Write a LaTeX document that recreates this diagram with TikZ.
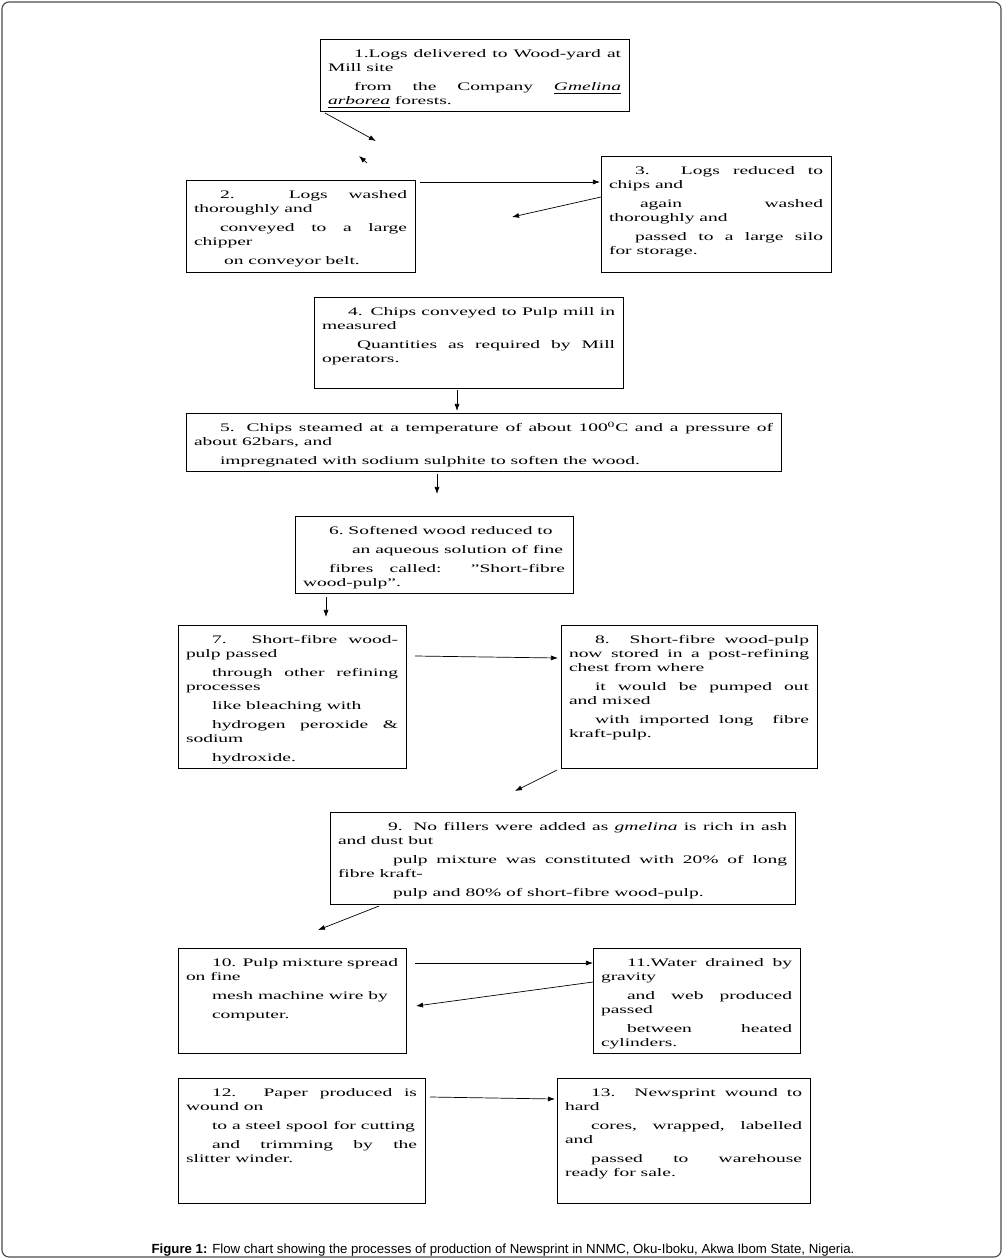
\documentclass[tikz,border=0pt]{standalone}
\usepackage{fontspec}
\setmainfont{Liberation Serif}
\newfontfamily\stagefont{Liberation Serif}[FakeStretch=1.69]
\newfontfamily\capfont{Liberation Sans}
\usepackage{tikz}
\usetikzlibrary{positioning,arrows.meta,calc}
\newdimen\px \px=0.71132pt
\newcommand{\jl}[1]{\makebox[\hsize][s]{#1}\\}
\newcommand{\indt}{\hspace*{26\px}}
\newcommand{\stagetext}[3]{\parbox[c][#2\px][t]{#1\px}{\rule{0pt}{13.3pt}#3}}
\tikzset{
stage/.style={
draw,
line width=0.6pt,
anchor=north west,
inner xsep=5.69pt,
inner ysep=0pt,
outer sep=0pt,
font=\stagefont\fontsize{8.2}{9.96}\selectfont
},
caption/.style={
font=\capfont\fontsize{9.4}{11}\selectfont,
inner sep=0pt
},
frame/.style={
draw=black!70,
line width=0.8pt,
rounded corners=5pt
},
arrow/.style={
-{Latex[length=5pt,width=3.6pt]},
line width=0.5pt
}
}
\begin{document}
\begin{tikzpicture}[x=0.025cm,y=-0.025cm]
\useasboundingbox (0,0) rectangle (1004,1260);
\draw[frame] (2,2) rectangle (1001,1257);

\node[stage](b1) at (320,39){\stagetext{293}{72}{%
\jl{\indt 1.Logs delivered to Wood-yard at}Mill site\\[5\px]%
\jl{\indt from the Company \underline{\textit{Gmelina}}}\underline{\textit{arborea}} forests.}};
\node[stage](b2) at (186,180){\stagetext{213}{92}{%
\jl{\indt 2. Logs washed}thoroughly and\\[5\px]%
\jl{\indt conveyed to a large}chipper\\[5\px]%
\hspace*{30\px}on conveyor belt.}};
\node[stage](b3) at (601,156){\stagetext{214}{116}{%
\jl{\indt 3. Logs reduced to}chips and\\[5\px]%
\jl{\hspace*{31\px}again washed}thoroughly and\\[5\px]%
\jl{\indt passed to a large silo}for storage.}};
\node[stage](b4) at (314,297){\stagetext{293}{91}{%
\jl{\indt 4. Chips conveyed to Pulp mill in}measured\\[5\px]%
\jl{\hspace*{35\px}Quantities as required by Mill}operators.}};
\node[stage](b5) at (186,413){\stagetext{579}{58}{%
\jl{\indt 5. Chips steamed at a temperature of about 100\textsuperscript{0}C and a pressure of}about 62bars, and\\[5\px]%
\indt impregnated with sodium sulphite to soften the wood.}};
\node[stage](b6) at (295,516){\stagetext{262}{77}{%
\indt 6.\ Softened wood reduced to\\[5\px]%
\hspace*{49\px}an aqueous solution of fine\\[5\px]%
\jl{\indt fibres called: ”Short-fibre}wood-pulp”.}};
\node[stage](b7) at (178,625){\stagetext{212}{143}{%
\jl{\indt 7. Short-fibre wood-}pulp passed\\[5\px]%
\jl{\indt through other refining}processes\\[5\px]%
\indt like bleaching with\\[5\px]%
\jl{\indt hydrogen peroxide \&}sodium\\[5\px]%
\indt hydroxide.}};
\node[stage](b8) at (561,625){\stagetext{240}{143}{%
\jl{\indt 8. Short-fibre wood-pulp}\jl{now stored in a post-refining}chest from where\\[5\px]%
\jl{\indt it would be pumped out}and mixed\\[5\px]%
\jl{\indt with imported long\ \ fibre}kraft-pulp.}};
\node[stage](b9) at (330,812){\stagetext{449}{92}{%
\jl{\hspace*{50\px}9. No fillers were added as \textit{gmelina} is rich in ash}and dust but\\[5\px]%
\jl{\hspace*{55\px}pulp mixture was constituted with 20\% of long}fibre kraft-\\[5\px]%
\hspace*{55\px}pulp and 80\% of short-fibre wood-pulp.}};
\node[stage](b10) at (178,948){\stagetext{212}{105}{%
\jl{\indt 10. Pulp mixture spread}on fine\\[5\px]%
\indt mesh machine wire by\\[5\px]%
\indt computer.}};
\node[stage](b11) at (593,948){\stagetext{191}{105}{%
\jl{\indt 11.Water drained by}gravity\\[5\px]%
\jl{\indt and web produced}passed\\[5\px]%
\jl{\indt between heated}cylinders.}};
\node[stage](b12) at (178,1078){\stagetext{231}{125}{%
\jl{\indt 12. Paper produced is}wound on\\[5\px]%
\indt to a steel spool for cutting\\[5\px]%
\jl{\indt and trimming by the}slitter winder.}};
\node[stage](b13) at (557,1078){\stagetext{237}{125}{%
\jl{\indt 13. Newsprint wound to}hard\\[5\px]%
\jl{\indt cores, wrapped, labelled}and\\[5\px]%
\jl{\indt passed to warehouse}ready for sale.}};

\node[caption](cap) at (503,1250){\textbf{Figure 1:} Flow chart showing the processes of production of Newsprint in NNMC, Oku-Iboku, Akwa Ibom State, Nigeria.};

% connector ends
\coordinate (s1) at ($(b1.south west)+(5,2)$);
\coordinate (e1) at (376,141);
\coordinate (t1) at (367,163);
\coordinate (t2) at (359,156);
\coordinate (s2) at ($(b2.north east)+(5,2)$);
\coordinate (e2) at ($(b3.north west)+(-1,26)$);
\coordinate (s3) at ($(b3.north west)+(0,41)$);
\coordinate (e3) at (512,217);
\coordinate (s4) at ($(b4.south west)+(143,2)$);
\coordinate (e4) at ($(b5.north west)+(271,-2)$);
\coordinate (s5) at ($(b5.south west)+(251,3)$);
\coordinate (e5) at (437,494);
\coordinate (s6) at ($(b6.south west)+(31,4)$);
\coordinate (e6) at (326,617);
\coordinate (s7) at ($(b7.north east)+(9,31)$);
\coordinate (e7) at ($(b8.north west)+(-3,33)$);
\coordinate (s8) at ($(b8.south west)+(-4,2)$);
\coordinate (e8) at (515,791);
\coordinate (s9) at ($(b9.south west)+(49,2)$);
\coordinate (e9) at (318,930);
\coordinate (s10) at ($(b10.north east)+(9,15)$);
\coordinate (e10) at ($(b11.north west)+(0,15)$);
\coordinate (s11) at ($(b11.north west)+(0,34)$);
\coordinate (e11) at (416,1006);
\coordinate (s12) at ($(b12.north east)+(5,19)$);
\coordinate (e12) at ($(b13.north west)+(-2,21)$);

\foreach \x/\y in {s1/e1,t1/t2,s2/e2,s3/e3,s4/e4,s5/e5,s6/e6,s7/e7,s8/e8,s9/e9,s10/e10,s11/e11,s12/e12}
\draw[arrow](\x)--(\y);
\end{tikzpicture}
\end{document}
